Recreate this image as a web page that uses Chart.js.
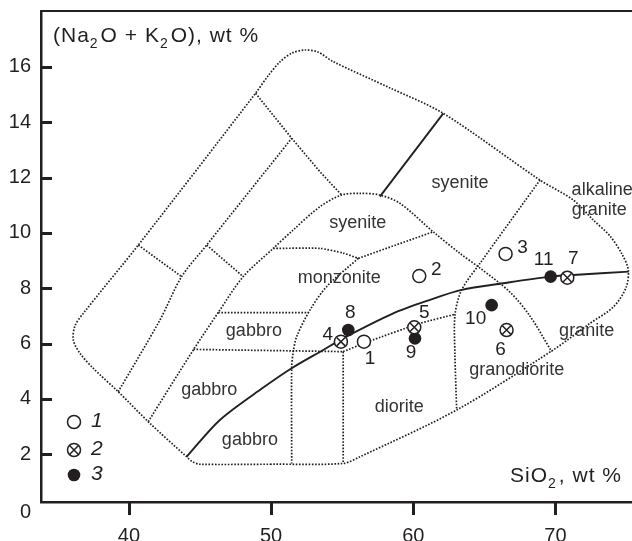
<!DOCTYPE html>
<html lang="en">
<head>
<meta charset="UTF-8">
<title>Na2O+K2O vs SiO2</title>
<script src="https://cdn.jsdelivr.net/npm/chart.js@4.4.1/dist/chart.umd.min.js"></script>
<style>
    html, body { margin: 0; padding: 0; background: #fff; }
    #wrap { width: 632px; height: 541px; }
</style>
</head>
<body>
<div id="wrap"><canvas id="chart" width="632" height="541"></canvas></div>
<script>
const INK = '#231f20';
const FONT = "'Liberation Sans', Arial, sans-serif";

// axes
const X_TICKS = [40, 50, 60, 70];
const Y_TICKS = [2, 4, 6, 8, 10, 12, 14, 16];
const X_MIN = 33.82, X_MAX = 75.38;
const Y_MIN = 0.275, Y_MAX = 18.02;

// samples [SiO2, Na2O+K2O]
const group1 = [[56.53, 6.07], [60.42, 8.44], [66.49, 9.24]];
const group1Names = ['1', '2', '3'];
const group2 = [[54.91, 6.07], [60.07, 6.59], [66.56, 6.49], [70.83, 8.38]];
const group2Names = ['4', '5', '6', '7'];
const group3 = [[55.43, 6.49], [60.12, 6.19], [65.51, 7.39], [69.66, 8.42]];
const group3Names = ['8', '9', '10', '11'];

// where each sample number sits relative to its marker (px)
const group1LabelShift = [[6, 17], [17, -6], [17, -6]];
const group2LabelShift = [[-13, -7], [10, -14], [-6, 20], [6, -19]];
const group3LabelShift = [[2, -17], [-4, 14], [-16, 14], [-7, -17]];

// field boundaries (dotted)
const outerField = [[50.0, 1.64], [45.0, 1.64], [44.5, 1.72], [44.06, 1.91], [41.48, 3.12], [39.25, 4.26],
    [37.49, 5.11], [36.56, 5.65], [36.09, 6.13], [36.21, 6.64], [36.79, 7.09], [40.66, 9.56], [48.91, 15.05],
    [49.78, 15.67], [50.62, 16.18], [51.47, 16.50], [52.38, 16.61], [53.29, 16.54], [54.37, 16.19],
    [58.36, 15.24], [62.11, 14.32], [68.91, 11.91], [71.25, 11.19], [72.65, 10.47], [73.83, 9.89],
    [74.67, 9.24], [75.12, 8.66], [74.95, 8.01], [74.06, 7.32], [72.42, 6.73], [69.84, 5.77], [63.05, 3.60],
    [56.25, 1.91], [55.07, 1.67], [50.0, 1.64]];
const line2 = [[39.25, 4.26], [42.18, 6.85], [43.71, 8.42], [45.47, 9.56], [51.45, 13.42]];
const line3 = [[41.36, 3.18], [44.53, 5.77], [46.28, 7.12], [48.04, 8.42], [50.15, 9.44], [51.56, 10.11],
    [53.44, 10.95], [54.96, 11.37], [56.25, 11.43], [57.65, 11.37], [59.06, 11.07], [61.40, 10.04],
    [63.28, 9.26], [64.69, 8.73], [66.80, 7.86], [68.20, 7.00], [69.73, 5.71]];
const upperLine = [[48.91, 15.05], [51.45, 13.42], [53.44, 12.21], [54.96, 11.37]];
const cross1 = [[40.66, 9.56], [43.71, 8.42]];
const cross2 = [[45.47, 9.56], [48.04, 8.42]];
const monzTopA = [[50.15, 9.44], [53.44, 9.44], [55.07, 9.27], [56.13, 9.08]];
const monzTopB = [[56.13, 9.08], [58.59, 9.53], [61.40, 10.04]];
const monzLeft = [[56.13, 9.08], [53.91, 8.06], [52.73, 7.21], [51.80, 6.25], [51.56, 5.70], [51.45, 5.15], [51.45, 1.67]];
const gabbroTop = [[46.28, 7.12], [52.63, 7.12]];
const gabbroBase = [[44.53, 5.79], [55.07, 5.71]];
const monzBase = [[55.07, 5.71], [56.83, 6.07], [60.47, 6.73], [62.95, 7.06]];
const dioriteLeft = [[55.07, 5.71], [55.07, 1.67]];
const granodLeft = [[68.91, 11.91], [64.69, 8.90], [63.40, 7.94], [62.93, 7.03], [62.93, 5.59], [63.05, 3.60]];

// solid lines
const alkalineDivide = [[44.06, 1.91], [46.40, 3.24], [49.45, 4.41], [51.45, 5.11], [53.67, 5.77], [55.07, 6.19],
    [58.59, 7.09], [61.17, 7.58], [63.40, 7.94], [66.33, 8.18], [69.61, 8.42], [71.25, 8.48], [75.15, 8.60]];
const syeniteDivide = [[62.11, 14.32], [57.65, 11.31]];

// field names at their centre [SiO2, total alkali]
const fieldNames = ['syenite', 'syenite', 'monzonite', 'gabbro', 'gabbro', 'gabbro', 'diorite', 'granodiorite', 'granite', 'alkaline', 'granite'];
const fieldAt = [[63.28, 11.82], [56.09, 10.37], [54.79, 8.36], [48.79, 6.46], [45.65, 4.32], [48.51, 2.52],
    [59.01, 3.72], [67.27, 5.05], [72.19, 6.46], [73.28, 11.55], [73.07, 10.82]];

const xy = arr => arr.map(p => ({ x: p[0], y: p[1] }));

function dotted(arr, tension) {
    return {
        type: 'line', data: xy(arr), borderColor: INK, borderWidth: 1.7, borderDash: [1.6, 1.6],
        pointRadius: 0, tension: tension || 0, fill: false
    };
}
function solid(arr, tension) {
    return {
        type: 'line', data: xy(arr), borderColor: INK, borderWidth: 1.9,
        pointRadius: 0, tension: tension || 0, fill: false
    };
}

const datasets = [
    { data: xy(group2), pointStyle: 'crossRot', pointRadius: 6, borderColor: INK, borderWidth: 1.5 },
    { data: xy(group2), pointStyle: 'circle', pointRadius: 6.5, backgroundColor: '#fff', borderColor: INK, borderWidth: 1.5 },
    { data: xy(group1), pointStyle: 'circle', pointRadius: 6.5, backgroundColor: '#fff', borderColor: INK, borderWidth: 1.5 },
    { data: xy(group3), pointStyle: 'circle', pointRadius: 6.3, backgroundColor: INK, borderColor: INK, borderWidth: 0 },
    solid(alkalineDivide, 0.3),
    solid(syeniteDivide),
    dotted(outerField, 0.3),
    dotted(line2, 0.3),
    dotted(line3, 0.3),
    dotted(upperLine),
    dotted(cross1),
    dotted(cross2),
    dotted(monzTopA, 0.2),
    dotted(monzTopB),
    dotted(monzLeft, 0.3),
    dotted(gabbroTop),
    dotted(gabbroBase),
    dotted(monzBase, 0.2),
    dotted(dioriteLeft),
    dotted(granodLeft, 0.3)
];

function richText(ctx, parts, x, base, size) {
    parts.forEach(([t, sub]) => {
        const s = sub ? Math.round(size * 0.68) : size;
        ctx.font = s + 'px ' + FONT;
        ctx.fillText(t, x, base + (sub ? size * 0.3 : 0));
        x += ctx.measureText(t).width + (sub ? 2 : 0);
    });
}

const decor = {
    id: 'decor',
    afterDraw(chart) {
        const { ctx, chartArea: a, scales: { x, y } } = chart;
        ctx.save();
        ctx.strokeStyle = INK;
        ctx.fillStyle = INK;

        // frame top
        ctx.lineWidth = 2;
        ctx.beginPath(); ctx.moveTo(a.left - 1, a.top); ctx.lineTo(a.right, a.top); ctx.stroke();

        // tick marks: inward on y, outward on x
        ctx.lineWidth = 3;
        Y_TICKS.forEach(v => {
            const py = Math.round(y.getPixelForValue(v)) + 0.5;
            ctx.beginPath(); ctx.moveTo(a.left, py); ctx.lineTo(a.left + 11, py); ctx.stroke();
        });
        X_TICKS.forEach(v => {
            const px = Math.round(x.getPixelForValue(v)) + 0.5;
            ctx.beginPath(); ctx.moveTo(px, a.bottom); ctx.lineTo(px, a.bottom + 13); ctx.stroke();
        });

        // the 0 label below the axis corner
        ctx.font = '20px ' + FONT;
        ctx.textAlign = 'right';
        ctx.textBaseline = 'middle';
        ctx.fillText('0', a.left - 10, y.getPixelForValue(0) + 3);

        // axis titles
        ctx.textAlign = 'left';
        ctx.textBaseline = 'alphabetic';
        ctx.letterSpacing = '1px';
        richText(ctx, [['(Na'], ['2', true], ['O + K'], ['2', true], ['O), wt %']], 53, 42, 21);
        richText(ctx, [['SiO'], ['2', true], [', wt %']], 510, 482, 21);
        ctx.letterSpacing = '0px';

        // field names
        ctx.fillStyle = '#333';
        ctx.font = '18px ' + FONT;
        ctx.textAlign = 'center';
        ctx.textBaseline = 'middle';
        fieldNames.forEach((t, i) => {
            ctx.fillText(t, x.getPixelForValue(fieldAt[i][0]), y.getPixelForValue(fieldAt[i][1]));
        });

        // sample numbers
        ctx.fillStyle = INK;
        ctx.font = '19px ' + FONT;
        [[group1, group1Names, group1LabelShift], [group2, group2Names, group2LabelShift], [group3, group3Names, group3LabelShift]]
            .forEach(([pts, names, shift]) => {
                pts.forEach((p, i) => {
                    ctx.fillText(names[i], x.getPixelForValue(p[0]) + shift[i][0], y.getPixelForValue(p[1]) + shift[i][1]);
                });
            });

        // legend
        const lx = a.left + 33;
        const rows = [a.bottom - 80, a.bottom - 52, a.bottom - 27];
        ctx.lineWidth = 1.5;
        ctx.beginPath(); ctx.arc(lx, rows[0], 6.5, 0, Math.PI * 2); ctx.fillStyle = '#fff'; ctx.fill(); ctx.stroke();
        ctx.beginPath(); ctx.arc(lx, rows[1], 6.5, 0, Math.PI * 2); ctx.fill(); ctx.stroke();
        const d = 6 * Math.SQRT1_2;
        ctx.beginPath();
        ctx.moveTo(lx - d, rows[1] - d); ctx.lineTo(lx + d, rows[1] + d);
        ctx.moveTo(lx + d, rows[1] - d); ctx.lineTo(lx - d, rows[1] + d);
        ctx.stroke();
        ctx.fillStyle = INK;
        ctx.beginPath(); ctx.arc(lx, rows[2], 6.3, 0, Math.PI * 2); ctx.fill();
        ctx.font = 'italic 21px ' + FONT;
        ctx.textAlign = 'left';
        ['1', '2', '3'].forEach((t, i) => ctx.fillText(t, lx + 17, rows[i] - 1));

        ctx.restore();
    }
};

const tickFont = { family: FONT, size: 20 };

new Chart(document.getElementById('chart').getContext('2d'), {
    type: 'scatter',
    data: { datasets },
    options: {
        responsive: false,
        animation: false,
        events: [],
        layout: { padding: { top: 11, left: 0, right: 0, bottom: 0 }, autoPadding: false },
        plugins: { legend: { display: false }, tooltip: { enabled: false } },
        scales: {
            x: {
                type: 'linear', min: X_MIN, max: X_MAX,
                afterBuildTicks: s => { s.ticks = X_TICKS.map(v => ({ value: v })); },
                afterFit: s => { s.height = 39; s.paddingLeft = s.paddingRight = 0; },
                grid: { display: false, drawTicks: false },
                border: { display: true, color: INK, width: 2.5 },
                ticks: { font: tickFont, color: INK, padding: 22, autoSkip: false, maxRotation: 0 }
            },
            y: {
                type: 'linear', min: Y_MIN, max: Y_MAX,
                afterBuildTicks: s => { s.ticks = Y_TICKS.map(v => ({ value: v })); },
                afterFit: s => { s.width = 41; s.paddingTop = s.paddingBottom = 0; },
                grid: { display: false, drawTicks: false },
                border: { display: true, color: INK, width: 2.5 },
                ticks: { font: tickFont, color: INK, padding: 10, autoSkip: false }
            }
        }
    },
    plugins: [decor]
});
</script>
</body>
</html>
